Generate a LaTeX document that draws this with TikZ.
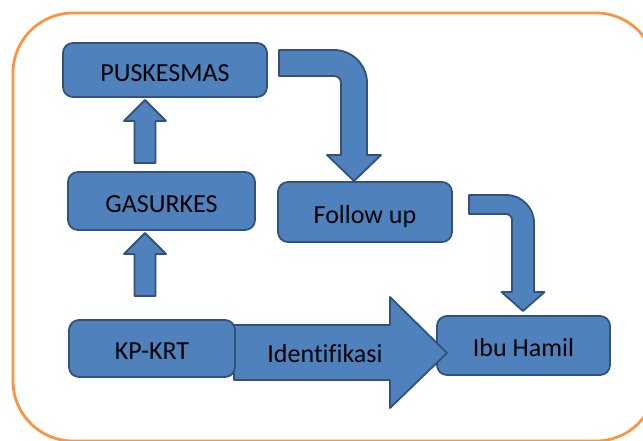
\documentclass[tikz,border=0pt]{standalone}
\usepackage{fontspec}
\setmainfont{Carlito}[Ligatures=NoCommon]
\definecolor{boxfill}{RGB}{79,129,189}
\definecolor{boxline}{RGB}{50,82,122}
\definecolor{frameorange}{RGB}{247,150,70}
\begin{document}
\begin{tikzpicture}[x=0.025cm,y=-0.025cm,line join=round,
	lbl/.style={inner sep=0pt,text height=15.7pt,text depth=0pt,font=\fontsize{18.5}{22}\selectfont},
	box/.style={lbl,draw=boxline,fill=boxfill,line width=1.3pt,rounded corners=0.25cm},
	blockarr/.style={draw=boxline,fill=boxfill,line width=1.3pt}]
	\useasboundingbox (0,0) rectangle (643,440);
	\clip (0,0) rectangle (643,440);
	\draw[frameorange,line width=2pt,rounded corners=1.5cm] (13,13) rectangle (656,441);
	\node[box,minimum width=204*0.025cm,minimum height=54*0.025cm] (pusk) at (165,70) {PUSKESMAS};
	\node[box,minimum width=187*0.025cm,minimum height=58*0.025cm] (gas) at (161.5,201) {GASURKES};
	\node[box,minimum width=174*0.025cm,minimum height=60*0.025cm] (follow) at (365,212) {Follow up};
	\node[box,minimum width=173*0.025cm,minimum height=59*0.025cm] (ibu) at (523.5,345.5) {Ibu Hamil};
	% up arrows
	\draw[blockarr] (134.5,163)--(134.5,121)--(124,121)--(145,100)--(166,121)--(155.5,121)--(155.5,163)--cycle;
	\draw[blockarr] (134.5,296)--(134.5,254)--(124,254)--(145,233)--(166,254)--(155.5,254)--(155.5,296)--cycle;
	% bent arrows
	\draw[blockarr] (279,50)--(334,50) .. controls (352.2,50) and (367,64.8) .. (367,83)--(367,155)--(381,155)--(354,181)
		--(327,155)--(341,155)--(341,83) .. controls (341,79.1) and (337.9,76) .. (334,76)--(279,76)--cycle;
	\draw[blockarr] (469,195)--(506,195) .. controls (521.5,195) and (534,207.5) .. (534,223)--(534,292)--(544.5,292)--(523,311)
		--(501.5,292)--(512,292)--(512,220) .. controls (512,216.7) and (509.3,214) .. (506,214)--(469,214)--cycle;
	\draw[blockarr] (234,325)--(390,325)--(390,297)--(447,353)--(390,408)--(390,380)--(234,380)--cycle;
	\node[box,minimum width=166*0.025cm,minimum height=57*0.025cm] (kp) at (152,348.5) {KP-KRT};
	\node[lbl] (ident) at (325,351) {Identifikasi};
\end{tikzpicture}
\end{document}
